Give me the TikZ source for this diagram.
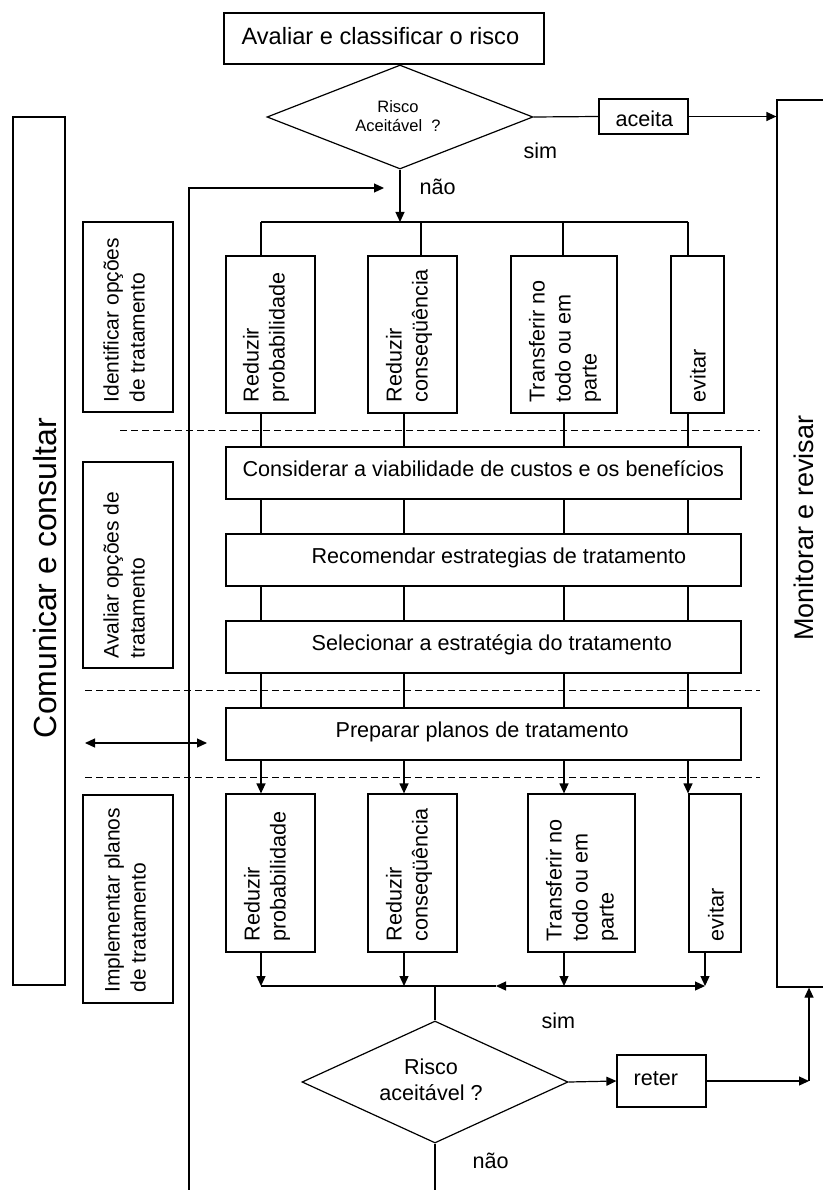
\documentclass[tikz,border=0pt]{standalone}
\usepackage{fontspec}
\setmainfont{Liberation Sans}
\usetikzlibrary{shapes.geometric,arrows.meta}

\begin{document}
\begin{tikzpicture}[x=1pt,y=-1pt,
  line width=1.2pt,
  every node/.style={inner sep=0pt},
  box/.style={draw, fill=white, line width=1.2pt, inner sep=0pt},
  dec/.style={draw, fill=white, diamond, line width=1.2pt, inner sep=0pt},
  lbl/.style={font=\fontsize{21.6}{26}\selectfont},
  small/.style={font=\fontsize{16.5}{19}\selectfont, align=center},
  vlbl/.style={font=\fontsize{21.6}{26}\selectfont, rotate=90, anchor=west, align=left},
  arr/.style={-{Triangle[length=10pt,width=9pt]}},
  arrboth/.style={{Triangle[length=10pt,width=9pt]}-{Triangle[length=10pt,width=9pt]}},
  sep/.style={dash pattern=on 7pt off 4pt, line width=1pt}
]
\useasboundingbox (0,0) rectangle (822,1190);

% ---- side columns -------------------------------------------------
\node[box, minimum width=52pt, minimum height=868pt] (com) at (39,551) {};
\node[rotate=90, font=\fontsize{32}{38}\selectfont] (comtxt) at (45,578) {Comunicar e consultar};

\node[box, minimum width=49pt, minimum height=887pt] (mon) at (801.5,543.5) {};
\node[rotate=90, font=\fontsize{27}{32}\selectfont] (montxt) at (804,528) {Monitorar e revisar};

\node[box, minimum width=90pt, minimum height=190pt] (idf) at (128,317) {};
\node[vlbl, font=\fontsize{21}{26}\selectfont] (idftxt) at (124,403) {Identificar opções\\de tratamento};
\node[box, minimum width=90pt, minimum height=206pt] (aval) at (128,565) {};
\node[vlbl, font=\fontsize{21}{26}\selectfont] (avaltxt) at (124,659) {Avaliar opções de\\tratamento};
\node[box, minimum width=90pt, minimum height=208pt] (impl) at (128,899) {};
\node[vlbl, font=\fontsize{21}{26}\selectfont] (impltxt) at (125,993) {Implementar planos\\de tratamento};

% ---- first decision ----------------------------------------------
\node[box, minimum width=320pt, minimum height=51pt] (top) at (384,38.5) {};
\node[font=\fontsize{23.6}{28}\selectfont, anchor=base west] (toptxt) at (241,45) {Avaliar e classificar o risco};
\node[dec, minimum width=266pt, minimum height=104pt] (d1) at (400,117) {};
\node[small] (d1txt) at (398,116) {Risco\\Aceitável\ \ ?};
\node[box, minimum width=89pt, minimum height=35pt] (aceita) at (643.5,116.5) {};
\node[lbl, anchor=base west] (aceitatxt) at (615,127) {aceita};
\node[lbl, anchor=base west] (sim1) at (523,159) {sim};
\node[lbl, anchor=base west] (nao1) at (419,195) {não};

\draw (d1.east) -- (aceita.west);
\draw[arr] (aceita.east) -- (aceita.east -| mon.west);

% ---- treatment options, first row --------------------------------
\node[box, minimum width=89pt, minimum height=157pt] (t1) at (270.5,334.5) {};
\node[box, minimum width=89pt, minimum height=157pt] (t2) at (412.5,334.5) {};
\node[box, minimum width=106pt, minimum height=157pt] (t3) at (564,334.5) {};
\node[box, minimum width=53pt, minimum height=157pt] (t4) at (697.5,334.5) {};
\node[vlbl] (t1txt) at (266,403) {Reduzir\\probabilidade};
\node[vlbl] (t2txt) at (409,403) {Reduzir\\conseqüência};
\node[vlbl] (t3txt) at (565,403) {Transferir no\\todo ou em\\parte};
\node[vlbl] (t4txt) at (698,403) {evitar};

\coordinate (split) at (400,222);
\coordinate (barL) at (261,222);
\coordinate (barR) at (688,222);
\draw[arr] (d1.south) -- (split);
\draw (barL) -- (barR);
\draw (barL) -- (barL |- t1.north);
\draw (421,222) coordinate (tap2) -- (tap2 |- t2.north);
\draw (563,222) coordinate (tap3) -- (tap3 |- t3.north);
\draw (barR) -- (barR |- t4.north);

% ---- treatment options, second row -------------------------------
\node[box, minimum width=89pt, minimum height=158pt] (b1) at (270.5,873) {};
\node[box, minimum width=89pt, minimum height=158pt] (b2) at (412.5,873) {};
\node[box, minimum width=107pt, minimum height=158pt] (b3) at (581.5,873) {};
\node[box, minimum width=52pt, minimum height=158pt] (b4) at (715,873) {};
\node[vlbl] (b1txt) at (267,942) {Reduzir\\probabilidade};
\node[vlbl] (b2txt) at (409,942) {Reduzir\\conseqüência};
\node[vlbl] (b3txt) at (582,942) {Transferir no\\todo ou em\\parte};
\node[vlbl] (b4txt) at (716,942) {evitar};

% vertical flow lines through the middle stages
\coordinate (c1) at (261,0);
\coordinate (c2) at (404,0);
\coordinate (c3) at (564,0);
\coordinate (c4) at (688,0);
\draw[arr] (t1.south -| c1) -- (b1.north -| c1);
\draw[arr] (t2.south -| c2) -- (b2.north -| c2);
\draw[arr] (t3.south -| c3) -- (b3.north -| c3);
\draw[arr] (t4.south -| c4) -- (b4.north -| c4);

% ---- middle stages -------------------------------------------------
\node[box, minimum width=515pt, minimum height=52pt] (cons) at (483.5,473) {};
\node[lbl, anchor=base west] (constxt) at (242,476) {Considerar a viabilidade de custos e os benefícios};
\node[box, minimum width=515pt, minimum height=52pt] (reco) at (483.5,560) {};
\node[lbl, anchor=base west] (recotxt) at (311,563) {Recomendar estrategias de tratamento};
\node[box, minimum width=515pt, minimum height=52pt] (sele) at (483.5,647) {};
\node[lbl, anchor=base west] (seletxt) at (311,650) {Selecionar a estratégia do tratamento};
\node[box, minimum width=515pt, minimum height=52pt] (prep) at (483.5,734) {};
\node[lbl, anchor=base west] (preptxt) at (335,737) {Preparar planos de tratamento};

% stage separators
\draw[sep] (120,430) coordinate (s1a) -- (760,430) coordinate (s1b);
\draw[sep] (85,690) coordinate (s2a) -- (760,690) coordinate (s2b);
\draw[sep] (85,777) coordinate (s3a) -- (760,777) coordinate (s3b);

% communication link
\draw[arrboth] (85,743) coordinate (lkA) -- (207,743) coordinate (lkB);

% ---- merge and second decision ------------------------------------
\coordinate (m1) at (261,986);
\coordinate (m2) at (404,986);
\coordinate (m3) at (564,986);
\coordinate (m4) at (705,986);
\coordinate (mL) at (496,986);
\coordinate (mid) at (435,986);
\draw[arr] (b1.south -| m1) -- (m1);
\draw[arr] (b2.south -| m2) -- (m2);
\draw[arr] (b3.south -| m3) -- (m3);
\draw[arr] (b4.south -| m4) -- (m4);
\draw (m1) -- (mL);
\draw[arr] (m3) -- (mL);
\draw[arr] (m3) -- (m4);

\node[dec, minimum width=266pt, minimum height=122pt] (d2) at (435,1082) {};
\node[lbl, align=center] (d2txt) at (431,1080) {Risco\\aceitável ?};
\draw (mid) -- (d2.north);

\node[box, minimum width=89pt, minimum height=52pt] (reter) at (661.5,1081) {};
\node[lbl, anchor=base west] (retertxt) at (633,1085) {reter};
\node[lbl, anchor=base west] (sim2) at (541,1028) {sim};
\node[lbl, anchor=base west] (nao2) at (472,1168) {não};

\draw[arr] (d2.east) -- (reter.west);
\coordinate (retcorner) at (809,1081);
\draw[arr] (reter.east) -- (retcorner);
\draw[arr] (retcorner) -- (retcorner |- mon.south);

\coordinate (exitB) at (435,1190);
\draw (d2.south) -- (exitB);

% loop back from below to the option stage
\coordinate (loopB) at (189,1190);
\coordinate (loopT) at (189,188);
\coordinate (loopE) at (384,188);
\draw[arr] (loopB) -- (loopT) -- (loopE);
\end{tikzpicture}
\end{document}
